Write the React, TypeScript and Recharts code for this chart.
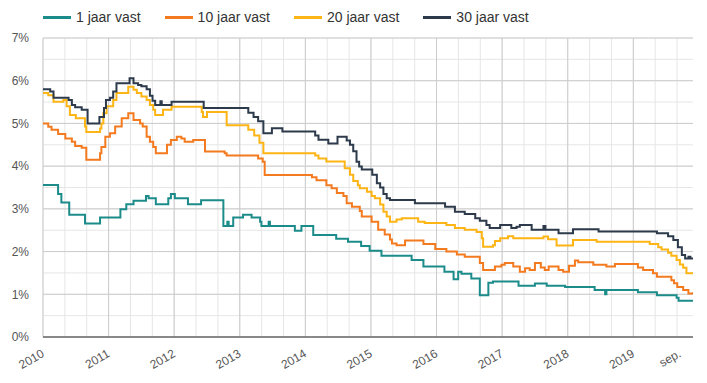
import { LineChart, Line, XAxis, YAxis, CartesianGrid } from "recharts";

const X_START = 2010;
const X_END = 2019.91;
const Y_MAX = 7;

// x-axis labels (years + last month)
const xTickValues = [2010, 2011, 2012, 2013, 2014, 2015, 2016, 2017, 2018, 2019, 2019.71];
const xTickLabels = ["2010", "2011", "2012", "2013", "2014", "2015", "2016", "2017", "2018", "2019", "sep."];
const yearLines = [2010, 2011, 2012, 2013, 2014, 2015, 2016, 2017, 2018, 2019];
const yTickValues = [0, 1, 2, 3, 4, 5, 6, 7];
const yMinorTicks = [0, 0.5, 1, 1.5, 2, 2.5, 3, 3.5, 4, 4.5, 5, 5.5, 6, 6.5, 7];
// grid every 4 months
const xMinorTicks = Array.from({ length: 30 }, (_, i) => X_START + i / 3);

// 1 jaar vast
const oneYearDates = [
  2010.0, 2010.23, 2010.28, 2010.4, 2010.64, 2010.87, 2011.18, 2011.27, 2011.38, 2011.57,
  2011.61, 2011.72, 2011.91, 2011.95, 2012.01, 2012.21, 2012.41, 2012.75, 2012.81, 2012.83,
  2012.9, 2013.05, 2013.18, 2013.31, 2013.33, 2013.44, 2013.46, 2013.84, 2013.94, 2014.12,
  2014.47, 2014.65, 2014.85, 2014.98, 2015.16, 2015.62, 2015.8, 2016.12, 2016.26, 2016.33,
  2016.38, 2016.53, 2016.66, 2016.79, 2016.86, 2017.25, 2017.5, 2017.68, 2017.96, 2018.41,
  2018.57, 2018.59, 2019.07, 2019.36, 2019.66, 2019.69, 2019.91,
];
const oneYearRates = [
  3.56, 3.35, 3.15, 2.86, 2.66, 2.8, 2.99, 3.11, 3.19, 3.3,
  3.25, 3.11, 3.25, 3.35, 3.25, 3.11, 3.2, 2.6, 2.7, 2.6,
  2.8, 2.86, 2.8, 2.7, 2.6, 2.7, 2.6, 2.49, 2.6, 2.39,
  2.3, 2.23, 2.13, 2.02, 1.9, 1.8, 1.65, 1.53, 1.35, 1.53,
  1.48, 1.37, 0.98, 1.27, 1.3, 1.2, 1.25, 1.2, 1.17, 1.1,
  1.0, 1.1, 1.05, 0.98, 0.92, 0.85, 0.83,
];

// 10 jaar vast
const tenYearDates = [
  2010.0, 2010.08, 2010.13, 2010.23, 2010.34, 2010.44, 2010.49, 2010.59, 2010.66, 2010.87,
  2010.89, 2010.95, 2011.02, 2011.1, 2011.2, 2011.3, 2011.38, 2011.48, 2011.52, 2011.58,
  2011.63, 2011.68, 2011.72, 2011.89, 2011.95, 2012.04, 2012.11, 2012.16, 2012.29, 2012.47,
  2012.77, 2012.8, 2013.28, 2013.35, 2013.38, 2014.1, 2014.17, 2014.32, 2014.4, 2014.48,
  2014.58, 2014.63, 2014.71, 2014.83, 2014.86, 2015.01, 2015.11, 2015.21, 2015.29, 2015.32,
  2015.39, 2015.52, 2015.8, 2015.98, 2016.15, 2016.31, 2016.43, 2016.66, 2016.71, 2016.89,
  2016.99, 2017.04, 2017.17, 2017.27, 2017.35, 2017.42, 2017.5, 2017.59, 2017.65, 2017.71,
  2017.86, 2017.93, 2018.02, 2018.11, 2018.16, 2018.39, 2018.59, 2018.72, 2019.07, 2019.15,
  2019.3, 2019.36, 2019.58, 2019.62, 2019.67, 2019.76, 2019.84, 2019.91,
];
const tenYearRates = [
  5.0, 4.92, 4.85, 4.75, 4.65, 4.57, 4.47, 4.43, 4.15, 4.3,
  4.45, 4.69, 4.77, 4.93, 5.12, 5.24, 5.08, 5.0, 4.93, 4.69,
  4.57, 4.45, 4.3, 4.5, 4.61, 4.69, 4.65, 4.57, 4.61, 4.34,
  4.3, 4.25, 4.18, 4.1, 3.79, 3.74, 3.67, 3.55, 3.48, 3.37,
  3.3, 3.13, 3.05, 2.95, 2.82, 2.7, 2.51, 2.4, 2.28, 2.19,
  2.15, 2.26, 2.18, 2.06, 2.0, 1.93, 1.88, 1.73, 1.57, 1.65,
  1.69, 1.73, 1.65, 1.53, 1.61, 1.57, 1.73, 1.63, 1.57, 1.65,
  1.57, 1.53, 1.67, 1.79, 1.75, 1.69, 1.65, 1.71, 1.63, 1.57,
  1.49, 1.41, 1.33, 1.26, 1.17, 1.1, 1.02, 1.05,
];

// 20 jaar vast
const twentyYearDates = [
  2010.0, 2010.08, 2010.16, 2010.31, 2010.36, 2010.41, 2010.5, 2010.64, 2010.66, 2010.87,
  2010.89, 2010.92, 2010.97, 2011.07, 2011.12, 2011.3, 2011.38, 2011.43, 2011.5, 2011.58,
  2011.63, 2011.68, 2011.71, 2011.83, 2011.96, 2012.42, 2012.44, 2012.5, 2012.8, 2013.13,
  2013.22, 2013.3, 2013.36, 2014.15, 2014.2, 2014.32, 2014.6, 2014.68, 2014.73, 2014.8,
  2014.83, 2014.94, 2015.01, 2015.06, 2015.14, 2015.19, 2015.24, 2015.29, 2015.39, 2015.47,
  2015.72, 2015.82, 2016.15, 2016.28, 2016.43, 2016.61, 2016.69, 2016.71, 2016.86, 2016.89,
  2016.97, 2017.09, 2017.17, 2017.63, 2017.7, 2017.83, 2018.08, 2018.44, 2019.25, 2019.38,
  2019.43, 2019.53, 2019.58, 2019.66, 2019.71, 2019.76, 2019.81, 2019.91,
];
const twentyYearRates = [
  5.71, 5.66, 5.51, 5.55, 5.4, 5.2, 5.12, 4.93, 4.8, 4.88,
  5.0, 5.24, 5.4, 5.55, 5.71, 5.86, 5.79, 5.71, 5.63, 5.55,
  5.43, 5.32, 5.2, 5.32, 5.39, 5.27, 5.15, 5.27, 4.96, 4.85,
  4.72, 4.55, 4.3, 4.25, 4.18, 4.11, 3.95, 3.8, 3.65, 3.55,
  3.48, 3.4, 3.3, 3.25, 3.1, 2.93, 2.82, 2.7, 2.75, 2.78,
  2.7, 2.67, 2.62, 2.55, 2.51, 2.46, 2.31, 2.11, 2.15, 2.25,
  2.31, 2.36, 2.31, 2.35, 2.29, 2.14, 2.27, 2.23, 2.18, 2.1,
  2.05, 1.97, 1.9, 1.8, 1.7, 1.62, 1.49, 1.49,
];

// 30 jaar vast
const thirtyYearDates = [
  2010.0, 2010.11, 2010.16, 2010.39, 2010.44, 2010.49, 2010.59, 2010.68, 2010.86, 2010.93,
  2010.96, 2011.02, 2011.07, 2011.12, 2011.32, 2011.38, 2011.45, 2011.5, 2011.58, 2011.63,
  2011.67, 2011.71, 2011.79, 2011.81, 2011.96, 2012.45, 2013.13, 2013.21, 2013.28, 2013.36,
  2013.49, 2013.65, 2014.15, 2014.2, 2014.35, 2014.49, 2014.63, 2014.68, 2014.73, 2014.78,
  2014.82, 2014.86, 2015.02, 2015.09, 2015.14, 2015.19, 2015.24, 2015.29, 2015.67, 2016.13,
  2016.28, 2016.43, 2016.59, 2016.66, 2016.76, 2016.81, 2016.97, 2017.14, 2017.22, 2017.27,
  2017.45, 2017.63, 2017.66, 2017.86, 2018.08, 2018.47, 2019.36, 2019.53, 2019.61, 2019.68,
  2019.74, 2019.79, 2019.84, 2019.87, 2019.91,
];
const thirtyYearRates = [
  5.8, 5.75, 5.6, 5.55, 5.43, 5.38, 5.32, 5.0, 5.15, 5.36,
  5.55, 5.6, 5.75, 5.94, 6.06, 5.94, 5.9, 5.87, 5.8, 5.65,
  5.53, 5.43, 5.52, 5.43, 5.51, 5.36, 5.25, 5.15, 5.05, 4.77,
  4.89, 4.81, 4.72, 4.62, 4.53, 4.69, 4.6, 4.5, 4.35, 4.1,
  3.99, 3.92, 3.8, 3.6, 3.5, 3.35, 3.25, 3.21, 3.13, 3.05,
  2.93, 2.88, 2.78, 2.72, 2.62, 2.55, 2.62, 2.55, 2.58, 2.62,
  2.51, 2.6, 2.51, 2.43, 2.52, 2.47, 2.43, 2.36, 2.27, 2.1,
  1.92, 1.84, 1.88, 1.84, 1.84,
];

const SERIES = [
  { name: "1 jaar vast", color: "#1c8c8b", dates: oneYearDates, rates: oneYearRates },
  { name: "10 jaar vast", color: "#f47a1f", dates: tenYearDates, rates: tenYearRates },
  { name: "20 jaar vast", color: "#fdb515", dates: twentyYearDates, rates: twentyYearRates },
  { name: "30 jaar vast", color: "#2c3a4b", dates: thirtyYearDates, rates: thirtyYearRates },
];

const FONT = "'Liberation Sans', Arial, sans-serif";

// grid line positions through the axis scale (falls back to the plot offset)
const verticalAt = (values: number[]) => ({ xAxis, offset }: any) =>
  values.map((v) =>
    typeof xAxis?.scale === "function"
      ? xAxis.scale(v)
      : offset.left + ((v - X_START) / (X_END - X_START)) * offset.width
  );
const horizontalAt = (values: number[]) => ({ yAxis, offset }: any) =>
  values.map((v) =>
    typeof yAxis?.scale === "function"
      ? yAxis.scale(v)
      : offset.top + offset.height - (v / Y_MAX) * offset.height
  );

function YearTick({ x, y, payload }: any) {
  const i = xTickValues.indexOf(payload.value);
  const label = i >= 0 ? xTickLabels[i] : "";
  return (
    <g transform={`translate(${x + 2},${y + 19})`}>
      <text textAnchor="end" transform="rotate(-30)" fill="#555" fontSize={12} fontFamily={FONT}>
        {label}
      </text>
    </g>
  );
}

function LegendRow() {
  return (
    <div
      style={{
        position: "absolute",
        top: 8,
        left: 43,
        height: 18,
        display: "flex",
        alignItems: "center",
        fontFamily: FONT,
        fontSize: 14,
        color: "#333",
        whiteSpace: "nowrap",
      }}
    >
      {SERIES.map((s) => (
        <div key={s.name} style={{ display: "flex", alignItems: "center", marginRight: 24 }}>
          <span style={{ display: "inline-block", width: 28, height: 3, background: s.color, marginRight: 5 }} />
          <span>{s.name}</span>
        </div>
      ))}
    </div>
  );
}

export default function App() {
  return (
    <div style={{ position: "fixed", left: 0, top: 0, width: 707, height: 383, background: "#fff" }}>
      <LegendRow />
      <LineChart width={707} height={383} margin={{ top: 38, right: 14, bottom: 0, left: 0 }}>
        <CartesianGrid
          stroke="#e6e6e6"
          verticalCoordinatesGenerator={verticalAt(xMinorTicks)}
          horizontalCoordinatesGenerator={horizontalAt(yMinorTicks)}
        />
        <CartesianGrid
          stroke="#cccccc"
          verticalCoordinatesGenerator={verticalAt(yearLines)}
          horizontalCoordinatesGenerator={horizontalAt(yTickValues)}
        />
        <XAxis
          dataKey="x"
          type="number"
          domain={[X_START, X_END]}
          ticks={xTickValues}
          interval={0}
          allowDataOverflow
          height={46}
          tickLine={false}
          tickSize={0}
          tickMargin={0}
          axisLine={{ stroke: "#333" }}
          tick={<YearTick />}
        />
        <YAxis
          type="number"
          domain={[0, Y_MAX]}
          ticks={yTickValues}
          interval={0}
          width={43}
          tickLine={false}
          axisLine={false}
          tickSize={0}
          tickMargin={14}
          tickFormatter={(v: number) => `${v}%`}
          tick={{ fill: "#555", fontSize: 12, fontFamily: FONT }}
        />
        {SERIES.map((s) => (
          <Line
            key={s.name}
            data={s.dates.map((d, i) => ({ x: d, rate: s.rates[i] }))}
            dataKey="rate"
            name={s.name}
            type="stepAfter"
            stroke={s.color}
            strokeWidth={2}
            dot={false}
            activeDot={false}
            isAnimationActive={false}
          />
        ))}
      </LineChart>
    </div>
  );
}
